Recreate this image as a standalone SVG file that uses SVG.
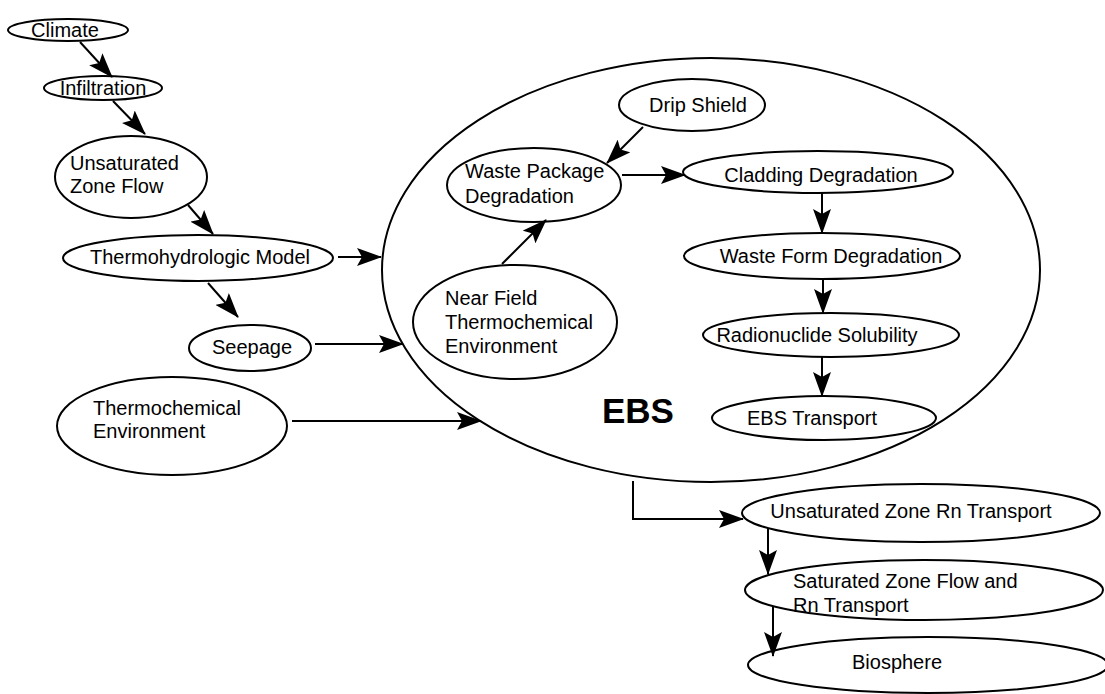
<svg xmlns="http://www.w3.org/2000/svg" width="1105" height="694" viewBox="0 0 1105 694">
<defs>
<style>
.n{fill:#fff;stroke:#000;stroke-width:2}
.big{fill:none;stroke:#000;stroke-width:2}
.t{font-family:"Liberation Sans",Arial,Helvetica,sans-serif;font-size:20px;fill:#000}
.m{text-anchor:middle}
.c{fill:none;stroke:#000;stroke-width:2}
.ebs{font-family:"Liberation Sans",Arial,Helvetica,sans-serif;font-size:35px;font-weight:bold;fill:#000}
</style>
<marker id="ah" markerUnits="userSpaceOnUse" markerWidth="25" markerHeight="18" refX="24" refY="9" orient="auto">
<path d="M0,0 L25,9 L0,18 L5,9 z" fill="#000"/>
</marker>
</defs>
<rect width="1105" height="694" fill="#fff"/>

<g id="ebs">
<ellipse class="big" cx="711" cy="270" rx="329" ry="212"/>
<text class="ebs" x="602" y="423">EBS</text>
</g>

<g id="climate">
<ellipse class="n" cx="68" cy="30" rx="60" ry="11"/>
<text class="t m" x="65" y="37">Climate</text>
</g>
<g id="infiltration">
<ellipse class="n" cx="103" cy="88" rx="59" ry="12"/>
<text class="t m" x="103" y="95">Infiltration</text>
</g>
<g id="uzflow">
<ellipse class="n" cx="131" cy="177" rx="76" ry="41"/>
<text class="t" x="70" y="170">Unsaturated</text>
<text class="t" x="70" y="193">Zone Flow</text>
</g>
<g id="thermohydro">
<ellipse class="n" cx="198" cy="258" rx="135" ry="23"/>
<text class="t m" x="200" y="264">Thermohydrologic Model</text>
</g>
<g id="seepage">
<ellipse class="n" cx="250" cy="348" rx="61" ry="23"/>
<text class="t m" x="252" y="354">Seepage</text>
</g>
<g id="thermochem">
<ellipse class="n" cx="172" cy="426" rx="115" ry="49"/>
<text class="t" x="93" y="415">Thermochemical</text>
<text class="t" x="93" y="438">Environment</text>
</g>
<g id="dripshield">
<ellipse class="n" cx="692" cy="105" rx="73" ry="26"/>
<text class="t m" x="698" y="112">Drip Shield</text>
</g>
<g id="wpd">
<ellipse class="n" cx="534" cy="185" rx="87" ry="37"/>
<text class="t" x="465" y="178">Waste Package</text>
<text class="t" x="465" y="203">Degradation</text>
</g>
<g id="nearfield">
<ellipse class="n" cx="515" cy="322" rx="102" ry="57"/>
<text class="t" x="445" y="305">Near Field</text>
<text class="t" x="445" y="329">Thermochemical</text>
<text class="t" x="445" y="353">Environment</text>
</g>
<g id="cladding">
<ellipse class="n" cx="818" cy="172" rx="135" ry="21"/>
<text class="t m" x="821" y="182">Cladding Degradation</text>
</g>
<g id="wasteform">
<ellipse class="n" cx="822" cy="256" rx="138" ry="23"/>
<text class="t m" x="831" y="263">Waste Form Degradation</text>
</g>
<g id="radionuclide">
<ellipse class="n" cx="831" cy="335" rx="128" ry="22"/>
<text class="t m" x="817" y="342">Radionuclide Solubility</text>
</g>
<g id="ebstransport">
<ellipse class="n" cx="824" cy="418" rx="112" ry="22"/>
<text class="t m" x="812" y="425">EBS Transport</text>
</g>
<g id="uzrn">
<ellipse class="n" cx="921" cy="513" rx="179" ry="29"/>
<text class="t m" x="911" y="518">Unsaturated Zone Rn Transport</text>
</g>
<g id="szflow">
<ellipse class="n" cx="924" cy="590" rx="179" ry="30"/>
<text class="t" x="793" y="588">Saturated Zone Flow and</text>
<text class="t" x="793" y="612">Rn Transport</text>
</g>
<g id="biosphere">
<ellipse class="n" cx="928" cy="665" rx="180" ry="28"/>
<text class="t m" x="897" y="669">Biosphere</text>
</g>

<g id="connectors">
<line class="c" x1="80" y1="42" x2="112" y2="77" marker-end="url(#ah)"/>
<line class="c" x1="113" y1="101" x2="145" y2="134" marker-end="url(#ah)"/>
<line class="c" x1="188" y1="205" x2="213" y2="234" marker-end="url(#ah)"/>
<line class="c" x1="338" y1="257" x2="381" y2="257" marker-end="url(#ah)"/>
<line class="c" x1="208" y1="283" x2="238" y2="317" marker-end="url(#ah)"/>
<line class="c" x1="315" y1="344" x2="403" y2="344" marker-end="url(#ah)"/>
<line class="c" x1="292" y1="421" x2="481" y2="421" marker-end="url(#ah)"/>
<line class="c" x1="643" y1="127" x2="607" y2="163" marker-end="url(#ah)"/>
<line class="c" x1="622" y1="175" x2="685" y2="175" marker-end="url(#ah)"/>
<line class="c" x1="502" y1="264" x2="546" y2="220" marker-end="url(#ah)"/>
<line class="c" x1="822" y1="193" x2="822" y2="233" marker-end="url(#ah)"/>
<line class="c" x1="823" y1="279" x2="823" y2="313" marker-end="url(#ah)"/>
<line class="c" x1="822" y1="357" x2="822" y2="396" marker-end="url(#ah)"/>
<polyline class="c" points="633,481 633,519 743,519" marker-end="url(#ah)"/>
<line class="c" x1="768" y1="528" x2="768" y2="574" marker-end="url(#ah)"/>
<line class="c" x1="773" y1="606" x2="773" y2="656" marker-end="url(#ah)"/>
</g>
</svg>
